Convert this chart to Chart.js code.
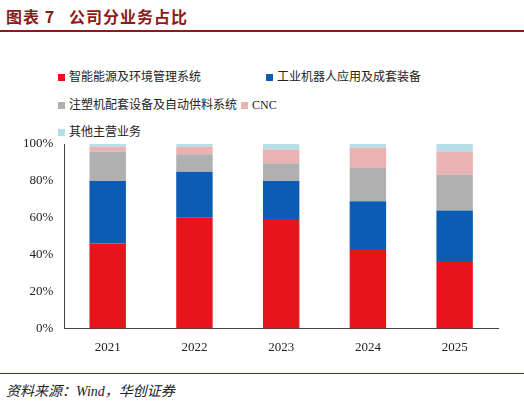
<!DOCTYPE html>
<html><head><meta charset="utf-8">
<script src="https://cdn.jsdelivr.net/npm/chart.js@4"></script>
<style>
body{margin:0;width:524px;height:413px;background:#fff;font-family:"Noto Sans CJK SC","Liberation Serif",serif;position:relative;overflow:hidden}
#title{position:absolute;left:6px;top:4px;font-size:16px;font-weight:bold;color:#8a1b1b;letter-spacing:1px}
#tline{position:absolute;left:0;top:30px;width:524px;height:2px;background:#8a1b1b}
#bline{position:absolute;left:0;top:373px;width:524px;height:1px;background:#8a1b1b}
#src{position:absolute;left:6px;top:380px;font-size:14px;font-style:italic;color:#222}
.lg{position:absolute;font-size:12px;color:#222;white-space:nowrap}
.lg i{display:inline-block;width:7px;height:7px;margin-right:4px;vertical-align:middle}
#wrap{position:absolute;left:0;top:130px;width:524px;height:228px}
</style></head><body>
<div id="title">图表 7&nbsp;&nbsp; 公司分业务占比</div>
<div id="tline"></div>
<div class="lg" style="left:58px;top:67px"><i style="background:#e8141c"></i>智能能源及环境管理系统</div>
<div class="lg" style="left:266px;top:67px"><i style="background:#0c5cb4"></i>工业机器人应用及成套装备</div>
<div class="lg" style="left:58px;top:95px"><i style="background:#b0b0b0"></i>注塑机配套设备及自动供料系统<i style="background:#ebb2b4;margin-left:4px"></i><span style="font-family:'Liberation Serif'">CNC</span></div>
<div class="lg" style="left:58px;top:122px"><i style="background:#b4dfe8"></i>其他主营业务</div>
<div id="wrap"><canvas id="c"></canvas></div>
<div id="bline"></div>
<div id="src">资料来源：<span style="font-family:'Liberation Serif'">Wind</span>，华创证券</div>
<script>
const years=['2021','2022','2023','2024','2025'];
const energy=[46,60,59.3,43,36];
const robot=[34,25,20.7,26,28];
const injection=[16,9.5,9.5,18,19.5];
const cnc=[2.5,4,7.5,11,12.5];
const other=[1.5,1.5,3,2,4];
const yTicks=[0,20,40,60,80,100];
const mk=(l,d,c)=>({label:l,data:d,backgroundColor:c,barPercentage:0.42,categoryPercentage:1});
new Chart(document.getElementById('c'),{type:'bar',
data:{labels:years,datasets:[mk('智能能源及环境管理系统',energy,'#e8141c'),mk('工业机器人应用及成套装备',robot,'#0c5cb4'),mk('注塑机配套设备及自动供料系统',injection,'#b0b0b0'),mk('CNC',cnc,'#ebb2b4'),mk('其他主营业务',other,'#b4dfe8')]},
options:{responsive:true,maintainAspectRatio:false,animation:false,
layout:{padding:{left:20,right:26,top:14,bottom:0}},
plugins:{legend:{display:false},tooltip:{enabled:false}},
scales:{x:{stacked:true,grid:{display:false},border:{color:'#444'},ticks:{color:'#222',font:{family:'Liberation Serif',size:13}}},
y:{stacked:true,min:0,max:100,afterBuildTicks:a=>{a.ticks=yTicks.map(v=>({value:v}))},grid:{display:false,drawTicks:true},border:{color:'#444'},
ticks:{color:'#222',font:{family:'Liberation Serif',size:13},callback:v=>v+'%'}}}}});
</script></body></html>
